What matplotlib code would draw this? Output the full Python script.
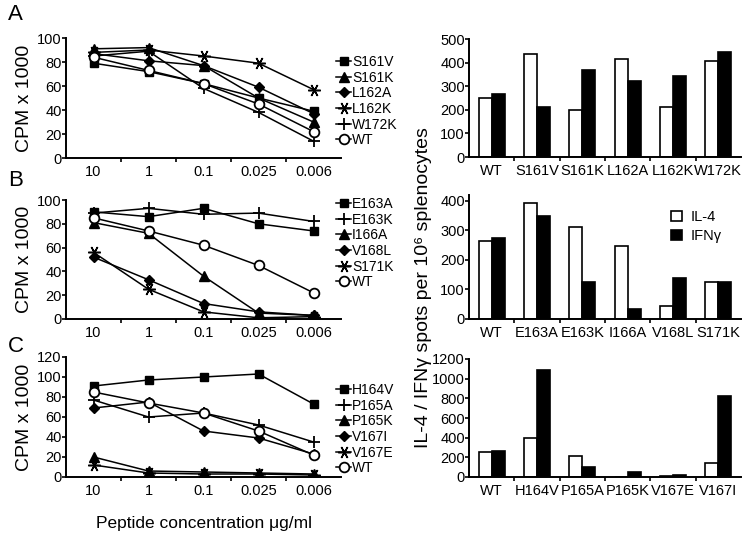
import matplotlib
matplotlib.use('Agg')
import numpy as np
from matplotlib import pyplot as plt

plt.rcParams['font.family'] = ['Liberation Sans', 'DejaVu Sans']

# peptide concentrations (ug/ml)
conc = ['10', '1', '0.1', '0.025', '0.006']

# proliferation, CPM x 1000
a_labels = ['S161V', 'S161K', 'L162A', 'L162K', 'W172K', 'WT']
a_values = [[79, 72, 62, 50, 39],
            [91, 92, 77, 50, 30],
            [87, 81, 77, 59, 37],
            [88, 90, 85, 79, 57],
            [85, 89, 58, 38, 14],
            [84, 73, 62, 45, 22]]

b_labels = ['E163A', 'E163K', 'I166A', 'V168L', 'S171K', 'WT']
b_values = [[90, 86, 93, 80, 74],
            [89, 93, 88, 89, 82],
            [81, 72, 36, 5, 3],
            [52, 33, 13, 6, 3],
            [56, 25, 6, 1, 2],
            [85, 74, 62, 45, 22]]

c_labels = ['H164V', 'P165A', 'P165K', 'V167I', 'V167E', 'WT']
c_values = [[91, 97, 100, 103, 73],
            [77, 60, 64, 52, 35],
            [20, 6, 5, 4, 3],
            [69, 75, 46, 39, 23],
            [12, 4, 3, 3, 2],
            [85, 74, 64, 46, 22]]

# ELISPOT, spots per 10^6 splenocytes
a_groups = ['WT', 'S161V', 'S161K', 'L162A', 'L162K', 'W172K']
a_il4 = [252, 435, 200, 417, 210, 407]
a_ifn = [265, 210, 370, 320, 344, 445]

b_groups = ['WT', 'E163A', 'E163K', 'I166A', 'V168L', 'S171K']
b_il4 = [264, 394, 310, 247, 44, 124]
b_ifn = [274, 349, 124, 35, 138, 124]

c_groups = ['WT', 'H164V', 'P165A', 'P165K', 'V167E', 'V167I']
c_il4 = [255, 398, 214, 0, 10, 139]
c_ifn = [265, 1085, 105, 51, 24, 820]

W, H = 749, 537


def rect(x0, x1, y_top, y_bot):
    return [x0 / W, 1 - y_bot / H, (x1 - x0) / W, (y_bot - y_top) / H]


def style_axes(ax):
    for s in ['top', 'right']:
        ax.spines[s].set_visible(False)
    for s in ['left', 'bottom']:
        ax.spines[s].set_linewidth(1.4)
    ax.tick_params(axis='both', labelsize=10.5, width=1.2, length=3)
    ax.tick_params(axis='y', pad=0)
    ax.tick_params(axis='x', which='major', length=0, pad=5)
    ax.tick_params(axis='x', which='minor', length=3, width=1.2)


star = (6, 2, 90)


def line_panel(ax, labels, values, markers, ymax, legend_y):
    x = np.arange(len(conc))
    for lab, vals, m in zip(labels, values, markers):
        kw = dict(color='black', lw=1.1, marker=m, label=lab,
                  markeredgecolor='black', markerfacecolor='black')
        if m == 'o':
            kw.update(markerfacecolor='white', markersize=7, mew=1.3, zorder=4)
        elif m == 's':
            kw.update(markersize=6)
        elif m == '^':
            kw.update(markersize=7)
        elif m == 'D':
            kw.update(markersize=5.5)
        elif m == '+':
            kw.update(markersize=9, mew=1.3)
        else:
            kw.update(markersize=9, mew=1.1)
        ax.plot(x, vals, **kw)
    ax.set_xlim(-0.5, len(conc) - 0.5)
    ax.set_ylim(0, ymax)
    ax.set_yticks(np.arange(0, ymax + 1, 20))
    ax.set_xticks(x)
    ax.set_xticklabels(conc)
    ax.set_xticks(np.arange(0.5, len(conc) - 1, 1), minor=True)
    style_axes(ax)
    ax.set_ylabel('CPM x 1000', fontsize=14, labelpad=3)
    ax.legend(loc='upper left', bbox_to_anchor=(336 / W, 1 - legend_y / H),
              bbox_transform=ax.figure.transFigure, frameon=False,
              fontsize=10, handlelength=1.1, handletextpad=0.05,
              labelspacing=0.12, borderpad=0, borderaxespad=0)


def bar_panel(ax, groups, il4, ifn, ymax, step, top=None):
    x = np.arange(len(groups))
    w = 0.29
    b1 = ax.bar(x - w / 2, il4, w, color='white', edgecolor='black', lw=1.2, label='IL-4')
    b2 = ax.bar(x + w / 2, ifn, w, color='black', edgecolor='black', lw=1.2, label='IFNγ')
    ax.set_xlim(-0.5, len(groups) - 0.5)
    ax.set_ylim(0, top if top else ymax)
    ax.set_yticks(np.arange(0, ymax + 1, step))
    ax.set_xticks(x)
    ax.set_xticklabels(groups)
    ax.set_xticks(np.arange(0.5, len(groups) - 1, 1), minor=True)
    style_axes(ax)
    return b1, b2


fig = plt.figure(figsize=(W / 100, H / 100), dpi=100)

ax_a = fig.add_axes(rect(66, 341, 38, 158))
ax_b = fig.add_axes(rect(66, 341, 200, 319))
ax_c = fig.add_axes(rect(66, 341, 357, 477))

line_panel(ax_a, a_labels, a_values, ['s', '^', 'D', star, '+', 'o'], 100, 55)
line_panel(ax_b, b_labels, b_values, ['s', '+', '^', 'D', star, 'o'], 100, 197)
line_panel(ax_c, c_labels, c_values, ['s', '+', '^', 'D', star, 'o'], 120, 383)
ax_c.set_xlabel('Peptide concentration μg/ml', fontsize=12.5, labelpad=13)

bx_a = fig.add_axes(rect(469, 741, 39, 157))
bx_b = fig.add_axes(rect(469, 741, 195, 319))
bx_c = fig.add_axes(rect(469, 741, 359, 477))

bar_panel(bx_a, a_groups, a_il4, a_ifn, 500, 100)
h1, h2 = bar_panel(bx_b, b_groups, b_il4, b_ifn, 400, 100, top=420)
bar_panel(bx_c, c_groups, c_il4, c_ifn, 1200, 200)

bx_b.legend(handles=[h1, h2], loc='upper left',
            bbox_to_anchor=(671 / W, 1 - 210 / H), bbox_transform=fig.transFigure,
            frameon=False, fontsize=10.5, handlelength=0.75, handleheight=0.75,
            handletextpad=0.6, labelspacing=0.35, borderpad=0, borderaxespad=0)

fig.text(424 / W, 1 - 288 / H, 'IL-4 / IFNγ spots per 10⁶ splenocytes',
         rotation=90, ha='center', va='center', fontsize=14)

for lab, y in [('A', 14), ('B', 180), ('C', 346)]:
    fig.text(8 / W, 1 - y / H, lab, fontsize=16, ha='left', va='center')

fig.savefig('out.png', dpi=100)
